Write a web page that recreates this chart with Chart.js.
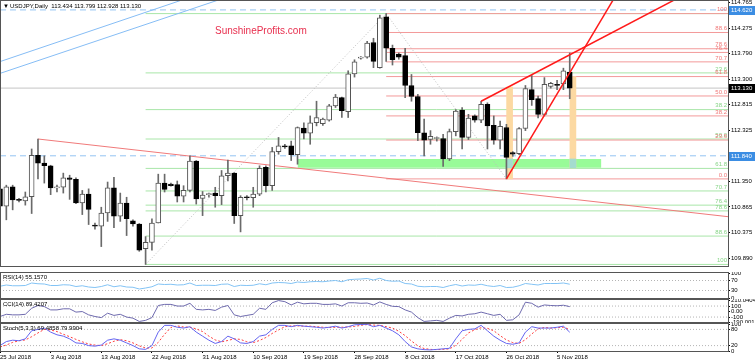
<!DOCTYPE html>
<html>
<head>
<meta charset="utf-8">
<script src="https://cdn.jsdelivr.net/npm/chart.js@4.4.0/dist/chart.umd.min.js"></script>
<style>
  html, body { margin: 0; padding: 0; background: #fff; }
  #wrap { position: relative; width: 755px; height: 363px; overflow: hidden; background: #fff; }
  canvas { position: absolute; left: 0; }
</style>
</head>
<body>
<div id="wrap">
  <canvas id="cMain" width="755" height="267" style="top:0px"></canvas>
  <canvas id="cRsi" width="755" height="27" style="top:272px"></canvas>
  <canvas id="cCci" width="755" height="24" style="top:299px"></canvas>
  <canvas id="cStoch" width="755" height="40" style="top:323px"></canvas>
</div>
<script>
// --- data (bar index 0 = 25 Jul 2018, includes sunday bars) ---
const dateLabels = ['25 Jul 2018', '3 Aug 2018', '13 Aug 2018', '22 Aug 2018', '31 Aug 2018', '10 Sep 2018',
  '19 Sep 2018', '28 Sep 2018', '8 Oct 2018', '17 Oct 2018', '26 Oct 2018', '5 Nov 2018'];
const dateBars = [0, 8, 16, 24, 32, 40, 48, 56, 64, 72, 80, 88];

const opens = [111.21, 110.88, 111.25, 111.00, 110.98, 111.06, 111.85, 111.70, 111.65, 111.23,
  111.24, 111.42, 111.39, 110.94, 111.11, 110.52, 110.50, 110.75, 111.23, 110.69,
  110.94, 110.60, 110.54, 110.07, 110.19, 110.56, 111.32, 111.30, 111.29, 111.07,
  111.18, 111.74, 111.03, 111.10, 111.13, 111.08, 111.46, 111.51, 110.70, 111.05,
  111.04, 111.11, 111.62, 111.27, 111.92, 112.03, 112.03, 111.86, 112.37, 112.27,
  112.47, 112.45, 112.52, 112.79, 112.95, 112.68, 113.40, 113.70, 113.72, 114.00,
  113.52, 114.49, 113.89, 113.78, 113.75, 113.18, 112.97, 112.28, 112.15, 112.17,
  112.17, 111.78, 112.30, 112.71, 112.19, 112.60, 112.52, 112.82, 112.42, 112.14,
  112.38, 111.90, 111.88, 112.36, 113.10, 112.93, 112.63, 113.16, 113.20, 113.21,
  113.434];
const highs = [111.36, 111.28, 111.28, 111.03, 111.15, 111.97, 112.16, 111.84, 111.66, 111.28,
  111.51, 111.47, 111.42, 111.18, 111.21, 110.56, 110.86, 111.34, 111.43, 111.13,
  111.05, 110.62, 110.55, 110.30, 110.64, 111.49, 111.49, 111.32, 111.36, 111.27,
  111.84, 111.75, 111.16, 111.13, 111.24, 111.56, 111.76, 111.52, 111.08, 111.08,
  111.24, 111.65, 111.65, 112.00, 112.19, 112.06, 112.12, 112.39, 112.47, 112.60,
  112.88, 112.56, 112.82, 113.01, 112.96, 113.46, 113.67, 113.73, 114.02, 114.08,
  114.52, 114.55, 113.95, 113.80, 113.89, 113.39, 113.01, 112.54, 112.32, 112.20,
  112.25, 112.35, 112.72, 112.76, 112.63, 112.62, 112.88, 112.85, 112.60, 112.50,
  112.44, 111.92, 112.38, 113.18, 113.37, 112.98, 113.33, 113.24, 113.28, 113.51,
  113.799];
const lows = [110.75, 110.62, 110.81, 110.96, 110.90, 110.74, 111.40, 111.32, 111.10, 111.15,
  111.13, 111.01, 110.93, 110.72, 110.53, 110.44, 110.11, 110.59, 110.47, 110.59,
  110.32, 110.50, 110.02, 109.77, 110.04, 110.56, 111.15, 111.26, 110.96, 110.96,
  111.15, 110.92, 110.70, 111.05, 110.86, 110.91, 111.36, 110.55, 110.39, 111.00,
  110.86, 111.08, 111.15, 111.18, 111.87, 111.98, 111.75, 111.68, 112.16, 112.06,
  112.41, 112.42, 112.50, 112.76, 112.57, 112.57, 113.34, 113.68, 113.70, 113.52,
  113.51, 113.64, 113.57, 113.68, 112.95, 112.88, 112.13, 111.84, 112.06, 112.12,
  111.64, 111.75, 112.22, 111.97, 112.15, 112.48, 112.47, 111.97, 112.06, 111.97,
  111.40, 111.83, 111.86, 112.32, 112.80, 112.56, 112.60, 113.13, 113.10, 113.10,
  112.928];
const closes = [110.88, 111.25, 111.00, 110.99, 111.06, 111.85, 111.70, 111.65, 111.23, 111.24,
  111.42, 111.39, 110.94, 111.11, 110.82, 110.50, 110.75, 111.23, 110.69, 110.94,
  110.64, 110.54, 110.04, 110.19, 110.56, 111.32, 111.20, 111.27, 111.07, 111.18,
  111.74, 111.02, 111.09, 111.10, 111.08, 111.46, 111.51, 110.70, 111.05, 111.04,
  111.11, 111.60, 111.27, 111.92, 112.03, 112.01, 111.86, 112.38, 112.27, 112.47,
  112.57, 112.54, 112.79, 112.96, 112.70, 113.40, 113.63, 113.72, 113.99, 113.64,
  114.47, 113.89, 113.67, 113.72, 113.18, 112.97, 112.28, 112.14, 112.21, 112.17,
  111.78, 112.30, 112.69, 112.19, 112.56, 112.52, 112.82, 112.41, 112.14, 112.40,
  111.81, 111.87, 112.36, 113.12, 112.91, 112.63, 113.20, 113.22, 113.18, 113.46,
  113.130];

const rsiValues = [47, 52, 49, 49, 50, 60, 57, 56, 50, 50,
  53, 52, 46, 49, 44, 42, 46, 53, 45, 49,
  44, 43, 36, 40, 45, 56, 54, 55, 52, 53,
  60, 50, 51, 51, 50, 55, 56, 46, 51, 50,
  51, 57, 53, 60, 62, 61, 58, 64, 62, 65,
  66, 65, 68, 70, 65, 73, 75, 76, 78, 72,
  79, 70, 67, 68, 58, 56, 47, 45, 46, 46,
  42, 49, 54, 48, 52, 51, 55, 49, 46, 50,
  42, 43, 49, 58, 55, 52, 58, 58, 58, 60,
  55.157];
const cciValues = [-90, -50, -60, -60, -50, 60, 110, 90, 30, 30,
  50, 50, -10, 0, -60, -90, -110, -30, -70, -50,
  -100, -120, -180, -160, -110, 110, 130, 130, 100, 100,
  150, 40, 30, 40, 20, 80, 110, -60, -90, -70,
  -50, 60, 40, 160, 200, 180, 120, 170, 140, 150,
  150, 130, 130, 140, 100, 160, 160, 150, 155, 120,
  175, 130, 95, 90, 30, -10, -110, -180, -170, -160,
  -180, -120, -70, -80, -50, -40, -10, -40, -70, -50,
  -160, -150, -60, 170, 150, 80, 120, 110, 105, 115,
  89.42];
const stochMain = [20, 35, 40, 38, 45, 75, 80, 85, 70, 60,
  55, 45, 30, 28, 20, 18, 22, 40, 45, 40,
  30, 20, 8, 6, 20, 70, 95, 95, 88, 85,
  90, 70, 55, 40, 28, 35, 55, 45, 30, 28,
  35, 55, 60, 80, 95, 95, 90, 95, 92, 90,
  88, 85, 88, 92, 85, 90, 97, 98, 99, 90,
  95, 85, 75, 60, 35, 15, 8, 5, 4, 6,
  8, 10, 45, 75, 80, 82, 95, 75, 55, 40,
  28, 25, 30, 70, 90, 85, 85, 85, 88, 92,
  69.49];
const stochSignal = [15, 22, 32, 38, 41, 53, 67, 80, 78, 72,
  62, 53, 43, 34, 26, 22, 20, 27, 36, 42,
  38, 30, 19, 11, 11, 32, 62, 87, 93, 89,
  88, 82, 72, 55, 41, 34, 39, 45, 43, 34,
  31, 39, 50, 65, 78, 90, 93, 93, 92, 92,
  90, 88, 87, 88, 88, 89, 91, 95, 98, 96,
  95, 90, 85, 73, 57, 37, 19, 9, 6, 5,
  6, 8, 21, 43, 67, 79, 86, 84, 75, 57,
  41, 31, 28, 42, 63, 82, 87, 85, 86, 88,
  79.99];

const priceTicks = [114.765, 114.275, 113.790, 113.300, 112.815, 112.325, 111.840, 111.350, 110.865, 110.375, 109.890];

// fibonacci levels (green: Aug low -> Oct high, red: Oct high -> Oct low)
const greenFibNames = ['', '23.6', '38.2', '50.0', '61.8', '70.7', '76.4', '78.6', '88.6', '100'];
const greenFibLevels = [114.55, 113.42, 112.72, 112.16, 111.60, 111.17, 110.90, 110.79, 110.31, 109.77];
const redFibNames = ['100', '88.6', '78.6', '76.4', '70.7', '61.8', '50.0', '38.2', '23.6', '0.0'];
const redFibLevels = [114.55, 114.19, 113.88, 113.81, 113.63, 113.35, 112.98, 112.60, 112.14, 111.40];
const greenFibStart = 23;
const redFibStart = 61;

const bidPrice = 113.130;
const dashedLevels = [114.620, 111.840];
const zoneStart = 47, zoneEnd = 95, zoneTop = 111.78, zoneBottom = 111.61;
const orangeX = [80.5, 90.5];
const orangeLow = [111.40, 111.61];
const orangeHigh = [113.15, 113.35];

// trend lines as [bar, price] end points
const wedgeUpper = [[76, 112.88], [107, 114.84]];
const wedgeLower = [[80, 111.40], [97, 114.84]];
const longDownLine = [[6, 112.16], [115, 110.68]];
const channelA = [[0, 113.635], [30, 114.86]];
const channelB = [[0, 113.41], [36, 114.87]];
const greenFibDiag = [[23, 109.77], [61, 114.55]];
const redFibDiag = [[61, 114.55], [80, 111.40]];

const X_MIN = 0, X_MAX = 115;
const Y_MIN = 109.74, Y_MAX = 114.79;
const FONT = "'Liberation Sans', Arial, sans-serif";

Chart.defaults.font.family = FONT;

function lineSet(points, color, width, dash, order) {
  return {
    type: 'line',
    data: points.map(p => ({ x: p[0], y: p[1] })),
    borderColor: color,
    borderWidth: width,
    borderDash: dash || [],
    pointRadius: 0,
    fill: false,
    tension: 0,
    order: order
  };
}

const framePlugin = {
  id: 'frame',
  afterDraw(chart) {
    const { ctx, chartArea: a } = chart;
    ctx.save();
    ctx.strokeStyle = '#555';
    ctx.lineWidth = 1;
    ctx.strokeRect(0.5, a.top - 0.5, a.right, a.bottom - a.top + 1);
    ctx.restore();
  }
};

// text on the main panel: title, watermark, fib labels, price markers
const mainTextPlugin = {
  id: 'mainText',
  afterDraw(chart) {
    const { ctx, chartArea: a } = chart;
    const ys = chart.scales.y;
    ctx.save();
    ctx.textBaseline = 'top';
    ctx.textAlign = 'left';
    ctx.fillStyle = '#000';
    ctx.font = '6px ' + FONT;
    ctx.fillText('\u25BC', 3, 3);
    ctx.fillText('USDJPY,Daily  113.434 113.799 112.928 113.130', 10, 3);

    ctx.font = '10px ' + FONT;
    ctx.fillStyle = '#e8304f';
    ctx.textBaseline = 'alphabetic';
    ctx.fillText('SunshineProfits.com', 215, 34);

    ctx.font = '6px ' + FONT;
    ctx.textAlign = 'right';
    ctx.textBaseline = 'bottom';
    ctx.fillStyle = '#86d486';
    greenFibLevels.forEach((v, i) => {
      if (greenFibNames[i]) ctx.fillText(greenFibNames[i], a.right - 1, ys.getPixelForValue(v) - 1);
    });
    ctx.fillStyle = '#f07878';
    redFibLevels.forEach((v, i) => {
      ctx.fillText(redFibNames[i], a.right - 1, ys.getPixelForValue(v) - 1);
    });

    const marks = [[dashedLevels[0], '#3b8de3'], [bidPrice, '#000'], [dashedLevels[1], '#3b8de3']];
    ctx.textAlign = 'left';
    ctx.textBaseline = 'middle';
    marks.forEach(m => {
      const py = Math.round(ys.getPixelForValue(m[0]));
      ctx.fillStyle = m[1];
      ctx.fillRect(a.right + 1, py - 4, 26, 9);
      ctx.fillStyle = '#fff';
      ctx.fillText(m[0].toFixed(3), a.right + 3, py + 0.5);
    });
    ctx.restore();
  }
};

const barIdx = opens.map((o, i) => i);
const isUp = i => closes[i] >= opens[i];

const mainDatasets = [
  lineSet(wedgeUpper, '#ff1a1a', 1.5, null, 0),
  lineSet(wedgeLower, '#ff1a1a', 1.5, null, 0),
  {
    type: 'bar',
    data: barIdx.map(i => ({ x: i, y: [opens[i], closes[i]] })),
    barThickness: 5,
    minBarLength: 1,
    grouped: false,
    borderSkipped: false,
    borderWidth: 1,
    backgroundColor: c => isUp(c.dataIndex) ? '#fff' : '#000',
    borderColor: c => isUp(c.dataIndex) ? '#555' : '#000',
    order: 1
  },
  {
    type: 'bar',
    data: barIdx.map(i => ({ x: i, y: [lows[i], highs[i]] })),
    barThickness: 1,
    grouped: false,
    backgroundColor: '#6a6a6a',
    borderWidth: 0,
    order: 2
  },
  {
    type: 'bar',
    data: orangeX.map((x, i) => ({ x: x, y: [Math.max(orangeLow[i], zoneBottom), Math.min(orangeHigh[i], zoneTop)] })),
    barThickness: 6,
    grouped: false,
    backgroundColor: '#a4dccf',
    borderWidth: 0,
    order: 3
  },
  {
    type: 'bar',
    data: orangeX.map((x, i) => ({ x: x, y: [orangeLow[i], orangeHigh[i]] })),
    barThickness: 6,
    grouped: false,
    backgroundColor: '#fcd9a2',
    borderWidth: 0,
    order: 4
  },
  lineSet(longDownLine, '#f07a7a', 1, null, 5),
  lineSet(channelA, '#86bdf5', 1, null, 5),
  lineSet(channelB, '#86bdf5', 1, null, 5),
  lineSet(greenFibDiag, '#bdbdbd', 1, [1, 2], 5),
  lineSet(redFibDiag, '#bdbdbd', 1, [1, 2], 5),
  lineSet([[X_MIN, bidPrice], [X_MAX, bidPrice]], '#c4c4c4', 1, null, 6),
  ...dashedLevels.map(v => lineSet([[X_MIN, v], [X_MAX, v]], '#93c4f2', 1, [6, 4], 6)),
  ...redFibLevels.map(v => lineSet([[redFibStart, v], [X_MAX, v]], '#f39a9a', 1, null, 7)),
  ...greenFibLevels.map(v => lineSet([[greenFibStart, v], [X_MAX, v]], '#a8e6a8', 1, null, 8)),
  {
    type: 'line',
    data: [{ x: zoneStart, y: zoneTop }, { x: zoneEnd, y: zoneTop }],
    borderWidth: 0,
    pointRadius: 0,
    fill: { value: zoneBottom },
    backgroundColor: '#98fb98',
    order: 9
  }
];

new Chart(document.getElementById('cMain'), {
  type: 'bar',
  data: { datasets: mainDatasets },
  options: {
    responsive: false,
    animation: false,
    events: [],
    layout: { padding: { top: 1, bottom: 1, left: 0, right: 0 } },
    plugins: { legend: { display: false }, tooltip: { enabled: false } },
    scales: {
      x: { type: 'linear', min: X_MIN, max: X_MAX, offset: false, display: false },
      y: {
        type: 'linear', position: 'right', min: Y_MIN, max: Y_MAX,
        afterFit(s) { s.width = 27; s.paddingTop = 0; s.paddingBottom = 0; },
        afterBuildTicks(s) { s.ticks = priceTicks.map(v => ({ value: v })); },
        ticks: { autoSkip: false, padding: 1, color: '#000', font: { size: 6 }, callback: v => v.toFixed(3) },
        grid: { drawOnChartArea: false, drawTicks: true, tickLength: 2, tickColor: '#000' },
        border: { display: true, color: '#000' }
      }
    }
  },
  plugins: [framePlugin, mainTextPlugin]
});

// indicator panels
function makePanel(canvasId, cfg) {
  const datasets = cfg.series.map(s => ({
    data: s.values.map((v, i) => ({ x: i, y: v })),
    borderColor: s.color,
    borderWidth: 1,
    borderDash: s.dash || [],
    pointRadius: 0,
    tension: 0,
    fill: false,
    order: 0
  })).concat(cfg.levels.map(l => lineSet([[X_MIN, l], [X_MAX, l]], '#b4b4b4', 1, [1, 2], 1)));

  const titlePlugin = {
    id: 'title_' + canvasId,
    afterDraw(chart) {
      const { ctx, chartArea: a } = chart;
      ctx.save();
      ctx.font = '6px ' + FONT;
      ctx.fillStyle = '#000';
      ctx.textAlign = 'left';
      ctx.textBaseline = 'top';
      ctx.fillText(cfg.title, 3, a.top + 1);
      ctx.restore();
    }
  };

  const xScale = cfg.dates ? {
    type: 'linear', min: X_MIN, max: X_MAX, offset: false,
    afterBuildTicks(s) { s.ticks = dateBars.map(v => ({ value: v })); },
    afterFit(s) { s.height = 12; s.paddingLeft = 0; s.paddingRight = 0; },
    ticks: { autoSkip: false, maxRotation: 0, minRotation: 0, align: 'start', padding: 1, color: '#000',
      font: { size: 6 }, callback: (v, i) => dateLabels[i] },
    grid: { drawOnChartArea: false, drawTicks: true, tickLength: 2, tickColor: '#000' },
    border: { display: true, color: '#000' }
  } : { type: 'linear', min: X_MIN, max: X_MAX, offset: false, display: false };

  return new Chart(document.getElementById(canvasId), {
    type: 'line',
    data: { datasets: datasets },
    options: {
      responsive: false,
      animation: false,
      events: [],
      layout: { padding: { top: 1, bottom: cfg.dates ? 0 : 1, left: 0, right: 0 } },
      plugins: { legend: { display: false }, tooltip: { enabled: false } },
      scales: {
        x: xScale,
        y: {
          type: 'linear', position: 'right', min: cfg.min, max: cfg.max,
          afterFit(s) { s.width = 27; s.paddingTop = 0; s.paddingBottom = 0; },
          afterBuildTicks(s) { s.ticks = cfg.ticks.map(v => ({ value: v })); },
          ticks: { autoSkip: false, padding: 1, color: '#000', font: { size: 6 },
            callback: (v, i) => cfg.tickNames[i] },
          grid: { drawOnChartArea: false, drawTicks: true, tickLength: 2, tickColor: '#000' },
          border: { display: true, color: '#000' }
        }
      }
    },
    plugins: [framePlugin, titlePlugin]
  });
}

makePanel('cRsi', {
  title: 'RSI(14) 55.1570',
  series: [{ values: rsiValues, color: '#82c3f5' }],
  levels: [70, 30],
  min: 0, max: 100,
  ticks: [100, 70, 30, 0], tickNames: ['100', '70', '30', '0']
});

makePanel('cCci', {
  title: 'CCI(14) 89.4207',
  series: [{ values: cciValues, color: '#6e6aae' }],
  levels: [100, -100],
  min: -190.001, max: 210.0404,
  ticks: [210.0404, 100, 0, -100, -190.001], tickNames: ['210.0404', '100', '0.00', '-100', '-190.001']
});

makePanel('cStoch', {
  title: 'Stoch(5,3,3) 69.4858 79.9904',
  series: [
    { values: stochMain, color: '#6464f0' },
    { values: stochSignal, color: '#ff3c3c', dash: [2, 2] }
  ],
  levels: [80, 20],
  min: 0, max: 100,
  ticks: [100, 80, 20, 0], tickNames: ['100', '80', '20', '0'],
  dates: true
});
</script>
</body>
</html>
